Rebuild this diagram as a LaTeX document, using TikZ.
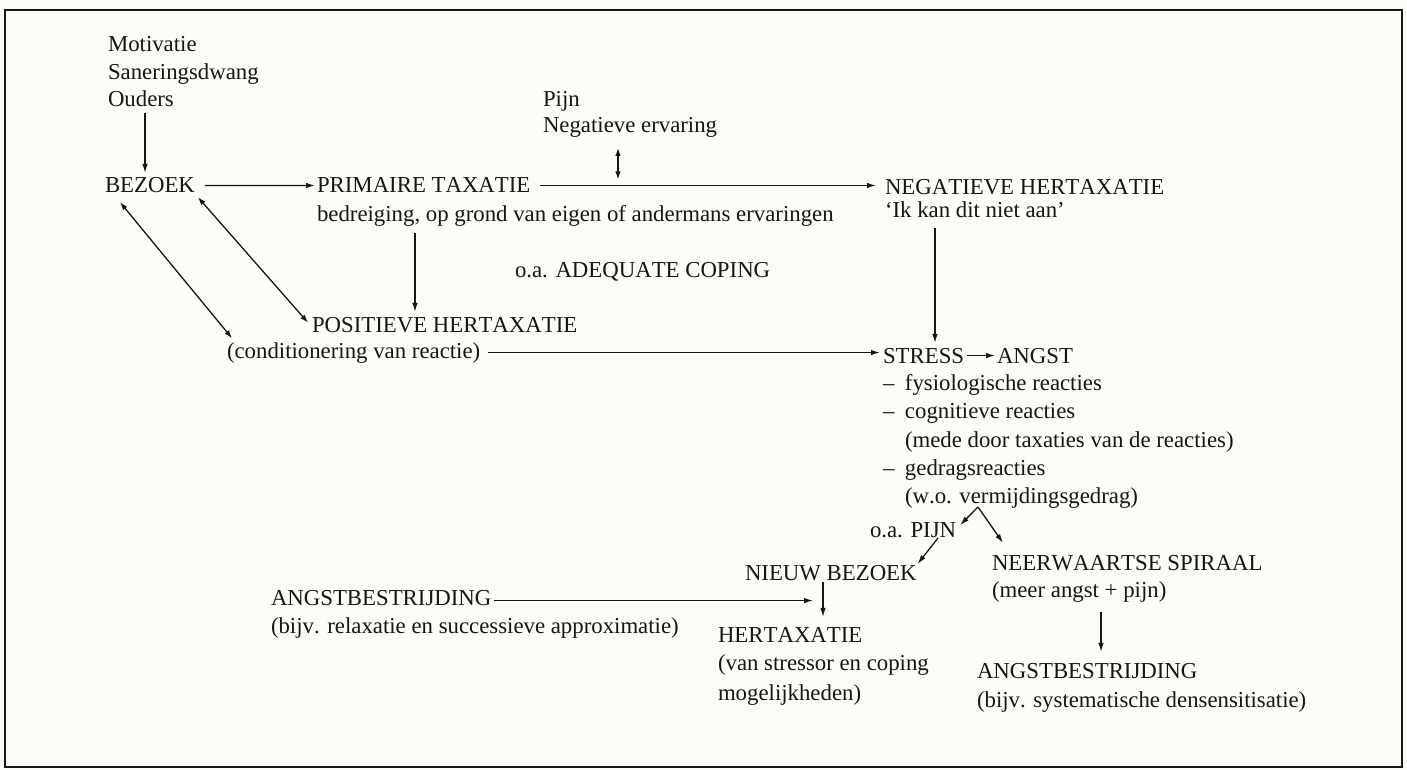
\documentclass[tikz,border=0pt]{standalone}
\usepackage{fontspec}
\setmainfont{Liberation Serif}[Kerning=Off]
\usetikzlibrary{arrows.meta}
\definecolor{ink}{HTML}{161616}
\definecolor{paper}{HTML}{FCFBF5}
\tikzset{
  txt/.style={anchor=base west, inner sep=0pt, outer sep=0pt, text=ink,
              font=\fontsize{22.8}{28}\selectfont},
  arr/.style={draw=ink, line width=1.3pt, -{Latex[length=9pt,width=5.5pt]}},
  arrtwo/.style={draw=ink, line width=1.3pt, {Latex[length=8pt,width=5.5pt]}-{Latex[length=8pt,width=5.5pt]}},
  frame/.style={draw=ink, line width=2.5pt}
}
\begin{document}
\begin{tikzpicture}[x=1pt,y=-1pt]
\fill[paper] (0,0) rectangle (1407,770);
\useasboundingbox (0,0) rectangle (1407,770);
\draw[frame] (5,10) rectangle (1402,767);

% nodes
\node[txt] (mot) at (108,52) {Motivatie};
\node[txt] (san) at (108,80) {Saneringsdwang};
\node[txt] (oud) at (108,107) {Ouders};
\node[txt] (bez) at (105,193) {BEZOEK};
\node[txt] (prim) at (317,193) {PRIMAIRE TAXATIE};
\node[txt] (bedr) at (317,222) {bedreiging, op grond van eigen of andermans ervaringen};
\node[txt] (pijn) at (543,107) {Pijn};
\node[txt] (negerv) at (543,133) {Negatieve ervaring};
\node[txt] (neg) at (885,195) {NEGATIEVE HERTAXATIE};
\node[txt] (ik) at (885,218) {‘Ik kan dit niet aan’};
\node[txt] (adeq) at (515,277) {o.a. ADEQUATE COPING};
\node[txt] (pos) at (312,332) {POSITIEVE HERTAXATIE};
\node[txt] (cond) at (227,358) {(conditionering van reactie)};
\node[txt] (stress) at (883,363) {STRESS};
\node[txt] (angst) at (997,363) {ANGST};
\node[txt] (la) at (883,390) {\makebox[22pt][l]{–}fysiologische reacties};
\node[txt] (lb) at (883,418) {\makebox[22pt][l]{–}cognitieve reacties};
\node[txt] (lc) at (905,447) {(mede door taxaties van de reacties)};
\node[txt] (ld) at (883,475) {\makebox[22pt][l]{–}gedragsreacties};
\node[txt] (le) at (905,503) {(w.o. vermijdingsgedrag)};
\node[txt] (pijntwo) at (870,537) {o.a. PIJN};
\node[txt] (neer) at (992,570) {NEERWAARTSE SPIRAAL};
\node[txt] (meer) at (992,597) {(meer angst + pijn)};
\node[txt] (nieuw) at (745,580) {NIEUW BEZOEK};
\node[txt] (angstone) at (271,605) {ANGSTBESTRIJDING};
\node[txt] (bijvone) at (271,633) {(bijv. relaxatie en successieve approximatie)};
\node[txt] (hert) at (718,642) {HERTAXATIE};
\node[txt] (van) at (718,670) {(van stressor en coping};
\node[txt] (mog) at (718,700) {mogelijkheden)};
\node[txt] (angsttwo) at (977,678) {ANGSTBESTRIJDING};
\node[txt] (bijvtwo) at (977,707) {(bijv. systematische densensitisatie)};

% helper coordinates
\coordinate (xa) at (145,0);
\coordinate (xd) at (618,0);
\coordinate (xe) at (415,0);
\coordinate (xf) at (935,0);
\coordinate (xg) at (823,0);
\coordinate (xh) at (1101,0);
\coordinate (fork) at (978,507);
\coordinate (pj) at (938,538);
\coordinate (xn) at (876,0);
\coordinate (xs) at (880,0);

% connectors
\draw[arr] ([yshift=-6pt]oud.south -| xa) -- ([yshift=5pt]bez.north -| xa);
\draw[arr] ([xshift=10pt]bez.east) -- ([xshift=-2pt]prim.west);
\draw[arr] ([xshift=10pt]prim.east) -- (prim.east -| xn);
\draw[arrtwo] ([yshift=-10pt]negerv.south -| xd) -- ([yshift=6pt]prim.east -| xd);
\draw[arr] ([yshift=-6pt]bedr.south -| xe) -- ([yshift=5pt]pos.north -| xe);
\draw[arrtwo] ([xshift=15pt,yshift=-9pt]bez.south west) -- ([xshift=5pt,yshift=4pt]cond.north west);
\draw[arrtwo] ([xshift=3pt,yshift=-4pt]bez.south east) -- ([xshift=-4pt,yshift=2pt]pos.west);
\draw[arr] ([yshift=-10pt]ik.south -| xf) -- ([yshift=5pt]stress.north -| xf);
\draw[arr] ([xshift=8pt]cond.east) -- (cond.east -| xs);
\draw[arr] ([xshift=3pt]stress.east) -- ([xshift=-2pt]angst.west);
\draw[arr] (fork) -- ([xshift=4pt,yshift=-3pt]pijntwo.north east);
\draw[arr] (fork) -- ([xshift=11pt,yshift=12pt]neer.north west);
\draw[arr] (pj) -- ([xshift=1pt,yshift=1pt]nieuw.north east);
\draw[arr] ([xshift=3pt,yshift=-3pt]angstone.east) -- ([xshift=-10pt,yshift=-3pt]angstone.east -| xg);
\draw[arr] ([yshift=-2pt]nieuw.south -| xg) -- ([yshift=10pt]hert.north -| xg);
\draw[arr] ([yshift=-10pt]meer.south -| xh) -- ([yshift=11pt]angsttwo.north -| xh);
\end{tikzpicture}
\end{document}
